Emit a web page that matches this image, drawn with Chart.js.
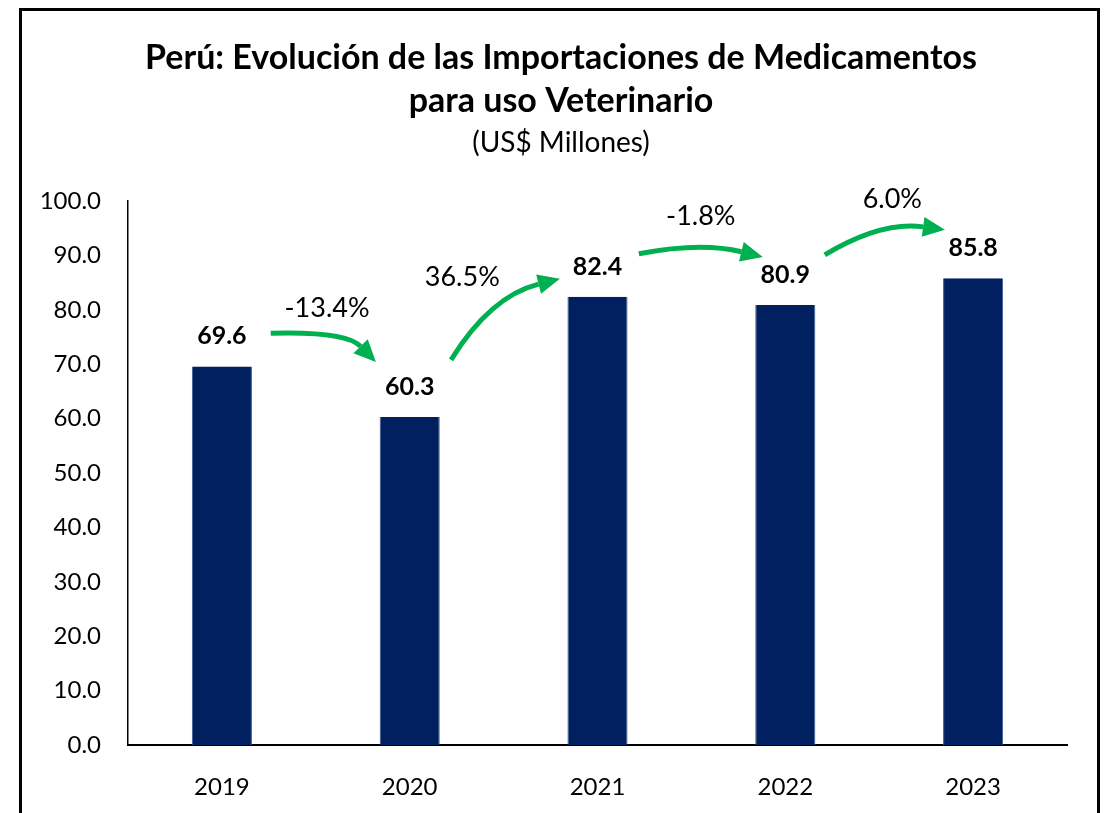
<!DOCTYPE html>
<html>
<head>
<meta charset="utf-8">
<script src="https://cdn.jsdelivr.net/npm/chart.js@4.4.1/dist/chart.umd.min.js"></script>
<style>
  html, body { margin: 0; padding: 0; background: #fff; }
  #wrap { position: relative; width: 1110px; height: 813px; }
  #frame {
    position: absolute; left: 19px; top: 8px; width: 1075px; height: 820px;
    border: 3px solid #000; pointer-events: none;
  }
</style>
</head>
<body>
<div id="wrap">
  <canvas id="chart" width="1110" height="813"></canvas>
  <div id="frame"></div>
</div>
<script>
const years = ["2019", "2020", "2021", "2022", "2023"];
const imports = [69.6, 60.3, 82.4, 80.9, 85.8];
const growth = ["-13.4%", "36.5%", "-1.8%", "6.0%"];
const titleLines = ["Perú: Evolución de las Importaciones de Medicamentos", "para uso Veterinario"];
const subtitleText = "(US$ Millones)";

// arrow geometry in chart units: [categoryIndex, value]
const arrows = [
  { from: [0.26, 75.7], ctrl: [0.66, 76.1], to: [0.82, 70.4], label: [0.56, 80.2] },
  { from: [1.22, 70.8], ctrl: [1.43, 82.5], to: [1.80, 85.7], label: [1.28, 86.0] },
  { from: [2.22, 90.3], ctrl: [2.55, 92.5], to: [2.88, 89.7], label: [2.55, 97.1] },
  { from: [3.21, 90.1], ctrl: [3.51, 96.3], to: [3.85, 94.7], label: [3.57, 100.4] },
];

const FONT = "Lato, 'Open Sans', sans-serif";
const GREEN = "#00B050";

// heading centred over the framed box rather than the plot
const heading = {
  id: "heading",
  afterDraw(chart) {
    const { ctx } = chart;
    const cx = 561;
    ctx.save();
    ctx.fillStyle = "#000";
    ctx.textAlign = "center";
    ctx.textBaseline = "middle";
    ctx.font = "bold 34px " + FONT;
    ctx.fillText(titleLines[0], cx, 58);
    ctx.fillText(titleLines[1], cx, 101);
    ctx.font = "28px " + FONT;
    ctx.fillText(subtitleText, cx, 143);
    ctx.restore();
  },
};

const annotations = {
  id: "annotations",
  afterDatasetsDraw(chart) {
    const { ctx, scales: { x, y } } = chart;
    const px = (p) => [x.getPixelForValue(0) + p[0] * (x.getPixelForValue(1) - x.getPixelForValue(0)), y.getPixelForValue(p[1])];

    // value labels above bars
    ctx.save();
    ctx.fillStyle = "#000";
    ctx.font = "bold 25px " + FONT;
    ctx.textAlign = "center";
    ctx.textBaseline = "middle";
    chart.getDatasetMeta(0).data.forEach((bar, i) => {
      ctx.fillText(imports[i].toFixed(1), bar.x, bar.y - 30);
    });

    // growth arrows
    arrows.forEach((a, i) => {
      const [x0, y0] = px(a.from);
      const [cx, cy] = px(a.ctrl);
      const [x1, y1] = px(a.to);
      const ang = Math.atan2(y1 - cy, x1 - cx);
      const head = 22, half = 10;
      const bx = x1 - head * Math.cos(ang), by = y1 - head * Math.sin(ang);

      ctx.strokeStyle = GREEN;
      ctx.lineWidth = 5;
      ctx.lineCap = "butt";
      ctx.beginPath();
      ctx.moveTo(x0, y0);
      ctx.quadraticCurveTo(cx, cy, bx, by);
      ctx.stroke();

      ctx.fillStyle = GREEN;
      ctx.beginPath();
      ctx.moveTo(x1, y1);
      ctx.lineTo(bx + half * Math.sin(ang), by - half * Math.cos(ang));
      ctx.lineTo(bx - half * Math.sin(ang), by + half * Math.cos(ang));
      ctx.closePath();
      ctx.fill();

      const [lx, ly] = px(a.label);
      ctx.fillStyle = "#000";
      ctx.font = "27px " + FONT;
      ctx.fillText(growth[i], lx, ly);
    });
    ctx.restore();
  },
};

new Chart(document.getElementById("chart").getContext("2d"), {
  type: "bar",
  data: {
    labels: years,
    datasets: [
      {
        data: imports,
        backgroundColor: "#002060",
        borderColor: "#3a5a94",
        borderWidth: { left: 1, right: 1, top: 0, bottom: 0 },
        barPercentage: 0.32,
        categoryPercentage: 1.0,
      },
    ],
  },
  options: {
    responsive: false,
    animation: false,
    layout: { padding: { left: 20, right: 43, top: 201, bottom: 0 } },
    plugins: {
      legend: { display: false },
      tooltip: { enabled: false },
    },
    scales: {
      x: {
        grid: { display: false },
        border: { color: "#000", width: 2 },
        ticks: { color: "#000", padding: 20, font: { family: FONT, size: 24 } },
        afterFit: (s) => { s.height = 68; },
      },
      y: {
        min: 0,
        max: 100,
        grid: { display: false, drawTicks: false },
        border: { color: "#000", width: 1.5 },
        ticks: {
          stepSize: 10,
          color: "#000",
          padding: 27,
          font: { family: FONT, size: 24 },
          callback: (v) => v.toFixed(1),
        },
        afterFit: (s) => { s.width = 108; },
      },
    },
  },
  plugins: [annotations, heading],
});
</script>
</body>
</html>
